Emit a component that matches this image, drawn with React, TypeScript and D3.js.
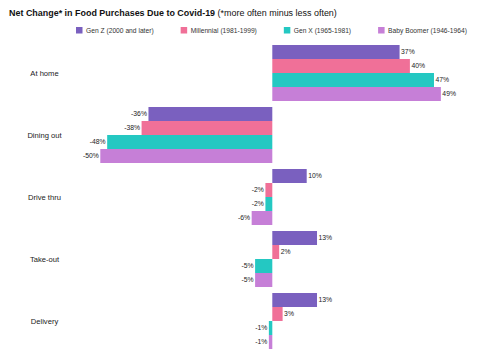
import React, { useEffect, useRef } from 'react';
import * as d3 from 'd3';

const categories = ['At home', 'Dining out', 'Drive thru', 'Take-out', 'Delivery'];
const generations = [
  'Gen Z (2000 and later)',
  'Millennial (1981-1999)',
  'Gen X (1965-1981)',
  'Baby Boomer (1946-1964)',
];
const colors = ['#7a60bf', '#f07098', '#24c8c2', '#c67fd7'];

// one array per generation, in category order
const genZ = [37, -36, 10, 13, 13];
const millennial = [40, -38, -2, 2, 3];
const genX = [47, -48, -2, -5, -1];
const boomer = [49, -50, -6, -5, -1];
const series = [genZ, millennial, genX, boomer];

const App = () => {
  const ref = useRef<SVGSVGElement>(null);
  const width = 488;
  const height = 363;

  useEffect(() => {
    const svg = d3.select(ref.current);
    svg.selectAll('*').remove();
    svg.style('font-family', 'Liberation Sans, Arial, sans-serif');

    // title
    const title = svg.append('text').attr('x', 9).attr('y', 16).attr('fill', '#111');
    title.append('tspan').attr('font-weight', 'bold').attr('font-size', 8.95).text('Net Change* in Food Purchases Due to Covid-19');
    title.append('tspan').attr('font-size', 8.95).text(' (*more often minus less often)');

    // legend
    let lx = 76;
    generations.forEach((g, i) => {
      const item = svg.append('g').attr('transform', `translate(${lx},27)`);
      item.append('rect').attr('width', 6.5).attr('height', 6.5).attr('fill', colors[i]);
      const t = item
        .append('text')
        .attr('x', 10)
        .attr('y', 5.8)
        .attr('font-size', 6.7)
        .attr('fill', '#333')
        .text(g);
      const w = (t.node() as SVGTextElement).getComputedTextLength();
      lx += 10 + w + 27;
    });

    const y0 = d3.scaleBand().domain(categories).range([45, 349]).paddingInner(0.0968).paddingOuter(0);
    const y1 = d3.scaleBand().domain(generations).range([0, y0.bandwidth()]);
    const x = d3.scaleLinear().domain([-52, 55]).range([272.3 - 52 * 3.44, 272.3 + 55 * 3.44]);

    // category labels
    svg
      .append('g')
      .selectAll('text')
      .data(categories)
      .enter()
      .append('text')
      .attr('x', 44.5)
      .attr('y', d => (y0(d) as number) + y0.bandwidth() / 2)
      .attr('dy', '0.35em')
      .attr('text-anchor', 'middle')
      .attr('font-size', 7.6)
      .attr('fill', '#222')
      .text(d => d);

    const rows = categories.flatMap((c, ci) =>
      generations.map((g, gi) => ({ c, g, gi, v: series[gi][ci] }))
    );

    const groups = svg.append('g');
    groups
      .selectAll('rect')
      .data(rows)
      .enter()
      .append('rect')
      .attr('x', d => x(Math.min(0, d.v)))
      .attr('y', d => (y0(d.c) as number) + (y1(d.g) as number))
      .attr('width', d => Math.abs(x(d.v) - x(0)))
      .attr('height', y1.bandwidth())
      .attr('fill', d => colors[d.gi]);

    groups
      .selectAll('text')
      .data(rows)
      .enter()
      .append('text')
      .attr('x', d => (d.v >= 0 ? x(d.v) + 1.5 : x(d.v) - 1.5))
      .attr('y', d => (y0(d.c) as number) + (y1(d.g) as number) + y1.bandwidth() / 2)
      .attr('dy', '0.35em')
      .attr('text-anchor', d => (d.v >= 0 ? 'start' : 'end'))
      .attr('font-size', 6.8)
      .attr('fill', '#222')
      .text(d => `${d.v}%`);
  }, []);

  return (
    <svg
      ref={ref}
      width={width}
      height={height}
      style={{ position: 'absolute', left: 0, top: 0, background: '#fff' }}
    />
  );
};

export default App;
